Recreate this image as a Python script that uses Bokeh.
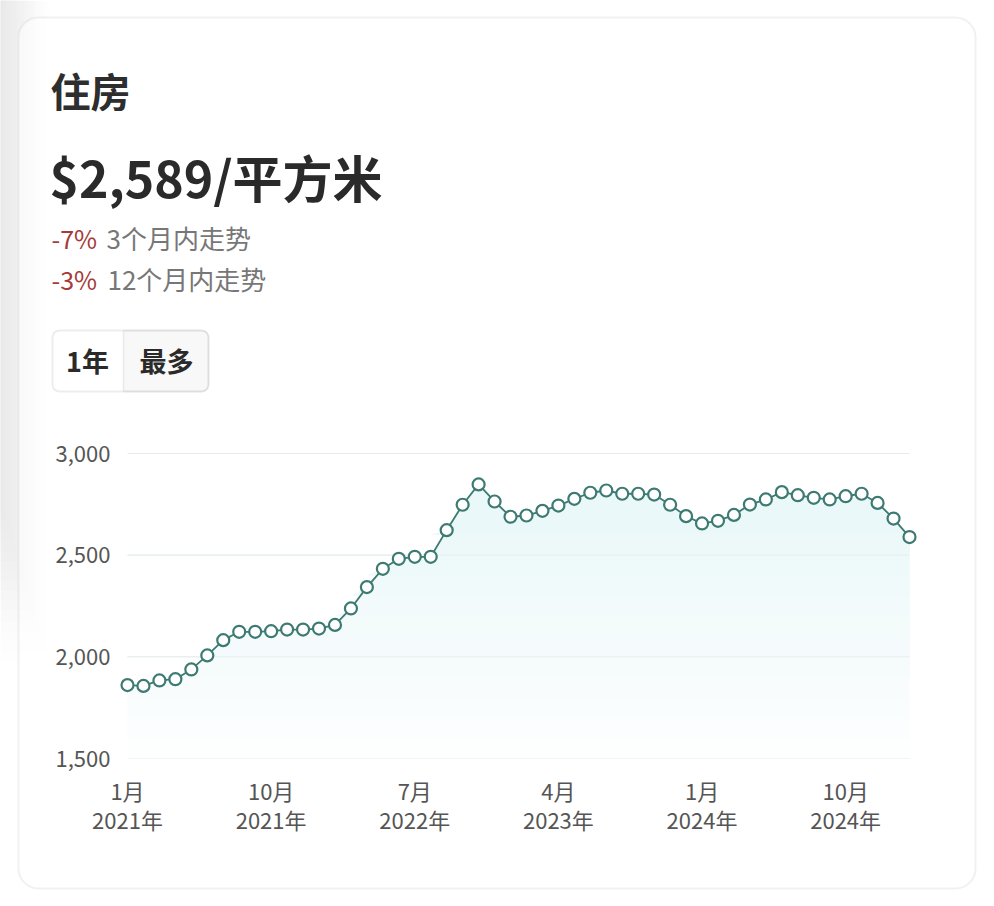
import numpy as np
from bokeh.plotting import figure
from bokeh.models import Range1d, Label, BoxAnnotation, FixedTicker, NumeralTickFormatter, LinearAxis
from bokeh.embed import file_html
from bokeh.resources import INLINE

# ---------------- data ----------------
months = [f"{y}-{m:02d}" for y in range(2021, 2026) for m in range(1, 13)][:50]
values = [1861, 1857, 1884, 1890, 1938, 2007, 2082, 2123, 2123, 2126,
          2134, 2134, 2139, 2157, 2238, 2343, 2433, 2482, 2492, 2492,
          2623, 2748, 2848, 2764, 2689, 2695, 2718, 2744, 2777, 2807,
          2818, 2802, 2802, 2798, 2748, 2692, 2656, 2669, 2698, 2749,
          2774, 2810, 2795, 2782, 2774, 2790, 2802, 2757, 2680, 2589]
tick_months = ["2021-01", "2021-10", "2022-07", "2023-04", "2024-01", "2024-10"]
tick_labels = ["1月\n2021年", "10月\n2021年", "7月\n2022年", "4月\n2023年", "1月\n2024年", "10月\n2024年"]
y_ticks = [1500, 2000, 2500, 3000]

title_text = "住房"
price_text = "$2,589/平方米"
trend_pct = ["-7%", "-3%"]
trend_txt = ["3个月内走势", "12个月内走势"]
buttons = ["1年", "最多"]

# ---------------- styling ----------------
FONT = "Noto Sans CJK SC"
TEAL = "#3c7a72"
W, H = 978, 890

idx = np.arange(len(values))
vals = np.array(values, dtype=float)
tick_pos = [months.index(m) for m in tick_months]

# chart placement on the canvas: month 0 -> x=127, month 49 -> x=909 ; 3000 -> y=453, 1500 -> y=758
X0, DX = 127.0, 782.0 / 49
Y3000, DY = 453.0, 305.0 / 1500
x_start, x_end = -X0 / DX, (W - X0) / DX
y_end, y_start = 3000 + Y3000 / DY, 3000 - (H - Y3000) / DY

p = figure(width=W, height=H, output_backend="svg", toolbar_location=None,
           x_range=Range1d(x_start, x_end), y_range=Range1d(y_start, y_end),
           x_axis_location=None, y_axis_location=None,
           min_border=0, min_border_left=0, min_border_right=0,
           min_border_top=0, min_border_bottom=0)
p.extra_x_ranges = {"px": Range1d(0, W)}
p.extra_y_ranges = {"py": Range1d(H, 0)}
p.outline_line_color = None
p.background_fill_color = "white"
p.border_fill_color = "white"
p.xgrid.visible = False
p.ygrid.visible = False

def mix(c0, c1, t):
    a = [int(c0[i:i + 2], 16) for i in (1, 3, 5)]
    b = [int(c1[i:i + 2], 16) for i in (1, 3, 5)]
    return "#" + "".join(f"{round(x + (y - x) * t):02x}" for x, y in zip(a, b))

# soft shadow at the left of the card: opaque steps, widest/lightest first
steps = 16
for k in range(steps):
    t = k / (steps - 1)
    p.add_layout(BoxAnnotation(left=0, right=48 - 46 * t, top=0, bottom=660 - 150 * t,
                               x_range_name="px", y_range_name="py",
                               fill_color=mix("#fdfdfd", "#e7e7e7", t), line_color=None, level="underlay"))

# card
p.add_layout(BoxAnnotation(left=18, right=975, top=17, bottom=888, x_range_name="px", y_range_name="py",
                           fill_color="white", fill_alpha=0.55, line_color="#d0d0d0", line_width=2,
                           border_radius=20, level="underlay"))

# grid lines spanning the data
p.segment(x0=idx[0], x1=idx[-1], y0=y_ticks, y1=y_ticks, line_color="#ebebeb", line_width=1)

# gradient-like area: opaque bands, each band from its level up to the line
levels = np.arange(1500, 2700, 100)
for k, lvl in enumerate(levels):
    t = k / (len(levels) - 1)
    p.varea(x=idx, y1=lvl, y2=np.maximum(vals, lvl), fill_color=mix("#fdfefe", "#ebf8f9", t))
p.segment(x0=idx[0], x1=idx[-1], y0=y_ticks[1:3], y1=y_ticks[1:3], line_color="#e4eeef", line_width=1)

p.line(idx, vals, line_color=TEAL, line_width=1.8)
p.scatter(idx, vals, size=12, fill_color="white", line_color=TEAL, line_width=2.2)

# axes drawn at fixed positions inside the full-canvas frame
xaxis = LinearAxis(fixed_location=y_ticks[0], ticker=FixedTicker(ticks=tick_pos),
                   major_label_overrides={t: l for t, l in zip(tick_pos, tick_labels)},
                   major_label_standoff=9)
yaxis = LinearAxis(fixed_location=(118 - X0) / DX, ticker=FixedTicker(ticks=y_ticks),
                   formatter=NumeralTickFormatter(format="0,0"), major_label_standoff=2)
for ax in (xaxis, yaxis):
    ax.axis_line_color = None
    ax.major_tick_line_color = None
    ax.minor_tick_line_color = None
    ax.major_label_text_font = FONT
    ax.major_label_text_font_size = "22px"
    ax.major_label_text_color = "#555555"
xaxis.major_label_text_line_height = 0.92
p.add_layout(xaxis, "below")
p.add_layout(yaxis, "left")

# header texts
def lab(x, y, t, size, color, style="normal", align="left"):
    p.add_layout(Label(x=x, y=y, text=t, x_range_name="px", y_range_name="py",
                       text_font=FONT, text_font_size=size, text_color=color,
                       text_font_style=style, text_align=align, text_baseline="middle"))

lab(50, 89, title_text, "40px", "#2e2e2e", "bold")
lab(49, 175, price_text, "50px", "#2a2a2a", "bold")
lab(51, 237, trend_pct[0], "25px", "#a53a3a")
lab(106, 237, trend_txt[0], "26px", "#777777")
lab(51, 278, trend_pct[1], "25px", "#a53a3a")
lab(107, 278, trend_txt[1], "26px", "#777777")

# buttons
p.add_layout(BoxAnnotation(left=52, right=123, top=330, bottom=391, x_range_name="px", y_range_name="py",
                           fill_color="white", line_color=None,
                           border_radius=(7, 0, 0, 7), level="annotation"))
p.add_layout(BoxAnnotation(left=123, right=208, top=330, bottom=391, x_range_name="px", y_range_name="py",
                           fill_color="#eeeeee", line_color="#c4c4c4", line_width=1.5,
                           border_radius=(0, 7, 7, 0), level="annotation"))
p.add_layout(BoxAnnotation(left=52, right=208, top=330, bottom=391, x_range_name="px", y_range_name="py",
                           fill_alpha=0, line_color="#c4c4c4", line_width=2,
                           border_radius=7, level="annotation"))
lab(87, 360, buttons[0], "27px", "#2a2a2a", "bold", "center")
lab(166, 360, buttons[1], "27px", "#2a2a2a", "bold", "center")

open("out.html", "w").write(file_html(p, INLINE))
